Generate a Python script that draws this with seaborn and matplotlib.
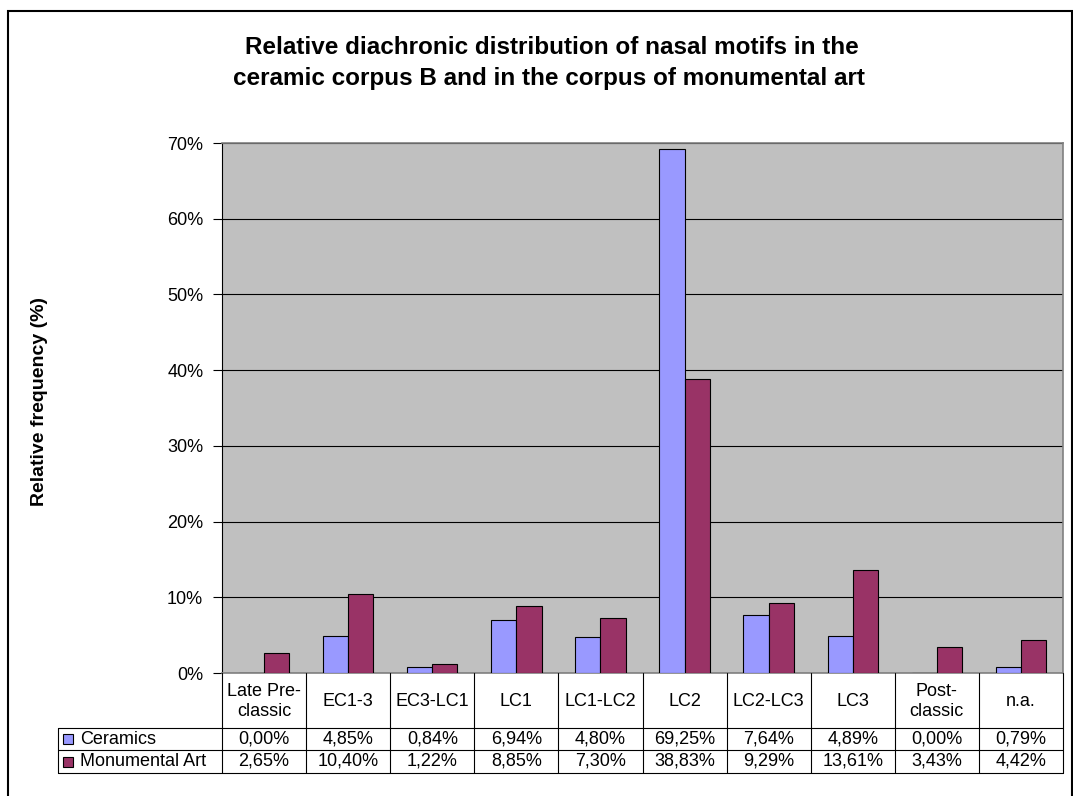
import matplotlib
matplotlib.use("Agg")
import matplotlib.pyplot as plt
import seaborn as sns
import pandas as pd
from matplotlib.lines import Line2D
from matplotlib.patches import Rectangle
from matplotlib.ticker import PercentFormatter

# data
periods = ["Late Pre-\nclassic", "EC1-3", "EC3-LC1", "LC1", "LC1-LC2",
           "LC2", "LC2-LC3", "LC3", "Post-\nclassic", "n.a."]
ceramics = [0.00, 4.85, 0.84, 6.94, 4.80, 69.25, 7.64, 4.89, 0.00, 0.79]
monumental = [2.65, 10.40, 1.22, 8.85, 7.30, 38.83, 9.29, 13.61, 3.43, 4.42]
series_names = ["Ceramics", "Monumental Art"]
colors = {"Ceramics": "#9999FF", "Monumental Art": "#993366"}

df = pd.DataFrame({"period": periods * 2,
                   "series": [series_names[0]] * len(periods) + [series_names[1]] * len(periods),
                   "value": ceramics + monumental})

sns.set_style("white")
plt.rcParams["font.family"] = ["Liberation Sans", "DejaVu Sans"]
plt.rcParams["text.color"] = "black"
plt.rcParams["ytick.color"] = "black"

W, H = 1073, 796
fig = plt.figure(figsize=(W / 100, H / 100), dpi=100)

def fx(x):
    return x / W

def fy(y):
    return 1 - y / H

# plot area in pixel terms
x0, x1, ytop, ybot = 222, 1063, 143, 673
ax = fig.add_axes([fx(x0), fy(ybot), fx(x1) - fx(x0), fy(ytop) - fy(ybot)])
ax.set_facecolor("#C0C0C0")

sns.barplot(data=df, x="period", y="value", hue="series", order=periods,
            hue_order=series_names, palette=colors, saturation=1, width=0.6, gap=0,
            edgecolor="black", linewidth=0.8, legend=False, ax=ax, zorder=3)

ax.set_ylim(0, 70)
ax.set_xlim(-0.5, len(periods) - 0.5)
ax.set_yticks(range(0, 71, 10))
ax.yaxis.set_major_formatter(PercentFormatter(decimals=0))
ax.yaxis.grid(True, color="black", linewidth=0.8, zorder=0)
ax.set_axisbelow(True)
ax.tick_params(axis="y", direction="out", length=6.5, width=0.8, color="black",
               labelcolor="black", labelsize=13, pad=7, left=True)
ax.set_xticks([])
ax.set_xlabel("")
ax.set_ylabel("")
for s in ax.spines.values():
    s.set_color("#808080")
    s.set_linewidth(1.2)
ax.spines["left"].set_color("black")
ax.spines["left"].set_linewidth(0.8)

# title and axis label
fig.text(fx(552), fy(47), "Relative diachronic distribution of nasal motifs in the",
         ha="center", va="center", fontsize=17.5, fontweight="bold")
fig.text(fx(549), fy(79), "ceramic corpus B and in the corpus of monumental art",
         ha="center", va="center", fontsize=17.5, fontweight="bold")
fig.text(fx(40), fy(402), "Relative frequency (%)", rotation=90,
         ha="center", va="center", fontsize=14, fontweight="bold")

# outer chart frame
fig.add_artist(Rectangle((fx(8), fy(800)), fx(1072) - fx(8), fy(11) - fy(800),
                         fill=False, edgecolor="black", linewidth=1.5,
                         transform=fig.transFigure))

# data table
tl = 58
rows_y = [673, 728, 750, 773]
cw = (x1 - x0) / len(periods)
lk = dict(color="black", linewidth=0.8, transform=fig.transFigure)
for y in rows_y[1:]:
    fig.add_artist(Line2D([fx(tl), fx(x1)], [fy(y), fy(y)], **lk))
fig.add_artist(Line2D([fx(tl), fx(tl)], [fy(rows_y[1]), fy(rows_y[3])], **lk))
for i in range(len(periods) + 1):
    xv = x0 + i * cw
    fig.add_artist(Line2D([fx(xv), fx(xv)], [fy(rows_y[0]), fy(rows_y[3])], **lk))

for i, p in enumerate(periods):
    xc = x0 + (i + 0.5) * cw
    fig.text(fx(xc), fy((rows_y[0] + rows_y[1]) / 2 + 1), p, ha="center", va="center",
             fontsize=13, linespacing=1.2)
    for r, vals in enumerate([ceramics, monumental]):
        txt = f"{vals[i]:.2f}%".replace(".", ",")
        fig.text(fx(xc), fy((rows_y[r + 1] + rows_y[r + 2]) / 2), txt,
                 ha="center", va="center", fontsize=13)

for r, name in enumerate(series_names):
    yc = (rows_y[r + 1] + rows_y[r + 2]) / 2
    fig.add_artist(Rectangle((fx(63), fy(yc + 5)), fx(10), fy(0) - fy(10),
                             facecolor=colors[name], edgecolor="black", linewidth=0.8,
                             transform=fig.transFigure))
    fig.text(fx(80), fy(yc), name, ha="left", va="center", fontsize=13)

fig.savefig("out.png", dpi=100)
